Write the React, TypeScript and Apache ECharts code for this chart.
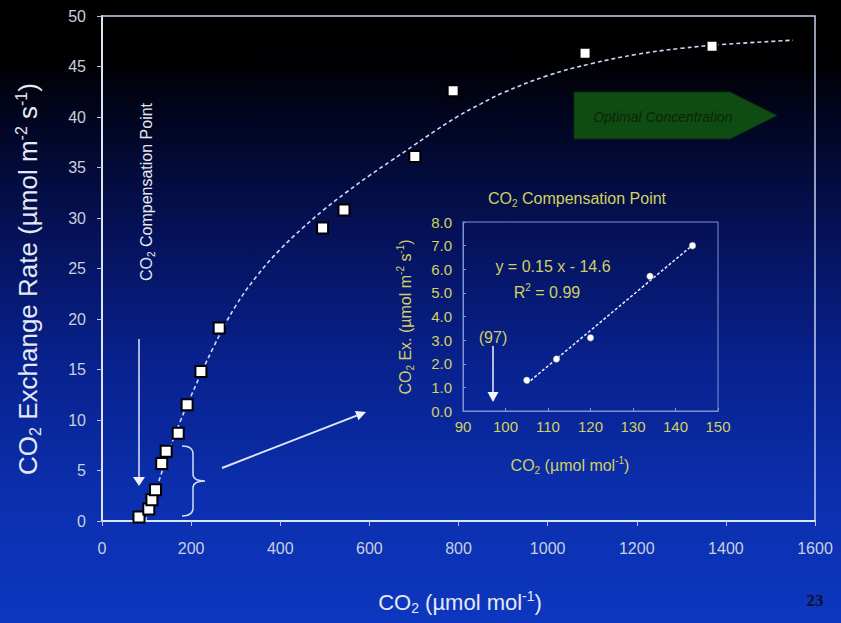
import React, { useEffect, useRef } from "react";
import * as echarts from "echarts";

// Main chart: measured CO2 exchange rate vs CO2 concentration
const mainX = [83, 105, 112, 120, 134, 144, 171, 191, 222, 263, 495, 543, 702, 788, 1084, 1369];
const mainY = [0.4, 1.2, 2.1, 3.1, 5.7, 6.9, 8.7, 11.5, 14.8, 19.1, 29.0, 30.8, 36.1, 42.6, 46.3, 47.0];
// Dashed fitted curve
const curveX = [97, 125, 150, 175, 200, 250, 300, 350, 400, 450, 500, 550, 600, 650, 700, 750, 800, 850, 900, 1000, 1100, 1200, 1300, 1400, 1550];
const curveY = [0, 3.6, 6.9, 9.8, 12.4, 17.2, 21.3, 24.4, 26.9, 29.0, 30.9, 32.6, 34.2, 35.7, 37.2, 38.7, 40.1, 41.3, 42.4, 44.1, 45.3, 46.2, 46.8, 47.2, 47.6];
// Inset: compensation point detail
const insetX = [105, 112, 120, 134, 144];
const insetY = [1.3, 2.2, 3.1, 5.7, 7.0];
// Axis ranges [min, max, interval]
const mainXRange = [0, 1600, 200];
const mainYRange = [0, 50, 5];
const insetXRange = [90, 150, 10];
const insetYRange = [0, 8, 1];

const FONT = "Liberation Sans, Arial, Helvetica, sans-serif";
const WHITE = "#e4e9f4";
const TICK = "#c9d0de";
const YEL = "#d2d062";

function richSpec(size: number, fill: string) {
  const small = Math.round(size * 0.62);
  return {
    a: { fontSize: size, lineHeight: size + 4, fill, fontFamily: FONT },
    s: { fontSize: small, lineHeight: small, verticalAlign: "bottom", fill, fontFamily: FONT },
    p: { fontSize: small, lineHeight: small, verticalAlign: "top", fill, fontFamily: FONT },
  };
}

function linReg(xs: number[], ys: number[]) {
  const n = xs.length;
  const mx = xs.reduce((a, b) => a + b, 0) / n;
  const my = ys.reduce((a, b) => a + b, 0) / n;
  let sxy = 0, sxx = 0;
  for (let i = 0; i < n; i++) {
    sxy += (xs[i] - mx) * (ys[i] - my);
    sxx += (xs[i] - mx) * (xs[i] - mx);
  }
  const b = sxy / sxx;
  return { b, a: my - b * mx };
}

echarts.graphic.registerShape(
  "brace",
  echarts.graphic.extendPath(
    "M0 1 Q11 1 11 9 L11 29 Q11 36 23 36 Q11 36 11 43 L11 63 Q11 71 0 71",
    {}
  )
);

export default function App() {
  const ref = useRef<HTMLDivElement>(null);
  useEffect(() => {
    if (!ref.current) return;
    const chart = echarts.init(ref.current, undefined, { renderer: "svg" });
    const reg = linReg(insetX, insetY);
    const x0 = Math.min(...insetX);
    const x1 = Math.max(...insetX);

    const option: any = {
      animation: false,
      backgroundColor: "transparent",
      grid: [
        { left: 102, top: 16, width: 713, height: 505, show: true, borderColor: "#c3cfee", borderWidth: 1.5, backgroundColor: "transparent" },
        { left: 463, top: 222, width: 255, height: 189, show: true, borderColor: "#7d94d6", borderWidth: 1, backgroundColor: "transparent" },
      ],
      xAxis: [
        {
          type: "value", gridIndex: 0, min: mainXRange[0], max: mainXRange[1], interval: mainXRange[2],
          axisLine: { show: true, onZero: false, lineStyle: { color: "#dde4f4", width: 2 } },
          axisTick: { show: true, length: 5, lineStyle: { color: "#b8c4e4", width: 1 } },
          axisLabel: { color: TICK, fontSize: 16, fontFamily: FONT, margin: 19, formatter: (v: number) => String(v) },
          splitLine: { show: false },
        },
        {
          type: "value", gridIndex: 1, min: insetXRange[0], max: insetXRange[1], interval: insetXRange[2],
          axisLine: { show: true, onZero: false, lineStyle: { color: "#7d94d6", width: 1 } },
          axisTick: { show: true, inside: true, length: 3, lineStyle: { color: "#7d94d6" } },
          axisLabel: { color: YEL, fontSize: 15, fontFamily: FONT, margin: 8, formatter: (v: number) => String(v) },
          splitLine: { show: false },
        },
      ],
      yAxis: [
        {
          type: "value", gridIndex: 0, min: mainYRange[0], max: mainYRange[1], interval: mainYRange[2],
          axisLine: { show: true, onZero: false, lineStyle: { color: "#dde4f4", width: 2 } },
          axisTick: { show: true, length: 5, lineStyle: { color: "#b8c4e4", width: 1 } },
          axisLabel: { color: TICK, fontSize: 16, fontFamily: FONT, margin: 16 },
          splitLine: { show: false },
        },
        {
          type: "value", gridIndex: 1, min: insetYRange[0], max: insetYRange[1], interval: insetYRange[2],
          axisLine: { show: true, onZero: false, lineStyle: { color: "#7d94d6", width: 1 } },
          axisTick: { show: true, inside: true, length: 3, lineStyle: { color: "#7d94d6" } },
          axisLabel: { color: YEL, fontSize: 15, fontFamily: FONT, margin: 11, formatter: (v: number) => v.toFixed(1) },
          splitLine: { show: false },
        },
      ],
      series: [
        {
          type: "line", xAxisIndex: 0, yAxisIndex: 0, smooth: 0.4, showSymbol: false, symbol: "none",
          data: curveX.map((x, i) => [x, curveY[i]]),
          lineStyle: { color: "#cdd9fb", width: 1.6, type: [4, 3] }, z: 2,
        },
        {
          type: "scatter", xAxisIndex: 0, yAxisIndex: 0, symbol: "rect", symbolSize: 11,
          data: mainX.map((x, i) => [x, mainY[i]]),
          itemStyle: { color: "#ffffff", borderColor: "#000000", borderWidth: 2, opacity: 1 }, z: 3,
        },
        {
          type: "line", xAxisIndex: 1, yAxisIndex: 1, showSymbol: false, symbol: "none",
          data: [[x0, reg.a + reg.b * x0], [x1, reg.a + reg.b * x1]],
          lineStyle: { color: "#e8eeff", width: 1.5, type: [3, 2] }, z: 2,
        },
        {
          type: "scatter", xAxisIndex: 1, yAxisIndex: 1, symbol: "circle", symbolSize: 7,
          data: insetX.map((x, i) => [x, insetY[i]]),
          itemStyle: { color: "#ffffff", borderColor: "#33406a", borderWidth: 0.5, opacity: 1 }, z: 3,
        },
      ],
      graphic: [
        // Main axis titles
        {
          type: "text", x: 28, y: 279, rotation: Math.PI / 2,
          style: { text: "{a|CO}{s|2}{a| Exchange Rate (µmol m}{p|-2}{a| s}{p|-1}{a|)}", rich: richSpec(26, WHITE), align: "center", verticalAlign: "middle" },
        },
        {
          type: "text", x: 460, y: 602,
          style: { text: "{a|CO}{s|2}{a| (µmol mol}{p|-1}{a|)}", rich: richSpec(22, WHITE), align: "center", verticalAlign: "middle" },
        },
        // Compensation point annotation
        {
          type: "text", x: 146, y: 192, rotation: Math.PI / 2,
          style: { text: "{a|CO}{s|2}{a| Compensation Point}", rich: richSpec(16, WHITE), align: "center", verticalAlign: "middle" },
        },
        { type: "line", shape: { x1: 139, y1: 339, x2: 139, y2: 478 }, style: { stroke: "#dfe6f6", lineWidth: 1.5 } },
        { type: "polygon", shape: { points: [[133, 477], [145, 477], [139, 486]] }, style: { fill: "#eef2fb" } },
        { type: "brace", x: 182, y: 445, style: { stroke: "#d2dbf2", lineWidth: 1.5, fill: null } },
        { type: "line", shape: { x1: 222, y1: 468, x2: 356.7, y2: 415.6 }, style: { stroke: "#dfe6f6", lineWidth: 2 } },
        { type: "polygon", shape: { points: [[366, 412], [358.5, 420.3], [354.9, 410.9]] }, style: { fill: "#eef2fb" } },
        // Inset titles and labels
        {
          type: "text", x: 577, y: 198,
          style: { text: "{a|CO}{s|2}{a| Compensation Point}", rich: richSpec(16, YEL), align: "center", verticalAlign: "middle" },
        },
        {
          type: "text", x: 405, y: 317, rotation: Math.PI / 2,
          style: { text: "{a|CO}{s|2}{a| Ex. (µmol m}{p|-2}{a| s}{p|-1}{a|)}", rich: richSpec(16, YEL), align: "center", verticalAlign: "middle" },
        },
        {
          type: "text", x: 570, y: 465,
          style: { text: "{a|CO}{s|2}{a| (µmol mol}{p|-1}{a|)}", rich: richSpec(16, YEL), align: "center", verticalAlign: "middle" },
        },
        {
          type: "text", x: 553, y: 266,
          style: { text: "y = 0.15 x - 14.6", fill: YEL, fontSize: 16, fontFamily: FONT, align: "center", verticalAlign: "middle" },
        },
        {
          type: "text", x: 547, y: 292,
          style: { text: "{a|R}{p|2}{a| = 0.99}", rich: richSpec(16, YEL), align: "center", verticalAlign: "middle" },
        },
        {
          type: "text", x: 493, y: 337,
          style: { text: "(97)", fill: YEL, fontSize: 16, fontFamily: FONT, align: "center", verticalAlign: "middle" },
        },
        { type: "line", shape: { x1: 493, y1: 346, x2: 493, y2: 393 }, style: { stroke: "#eef2fb", lineWidth: 1.5 } },
        { type: "polygon", shape: { points: [[487.5, 392], [498.5, 392], [493, 402]] }, style: { fill: "#f2f5fc" } },
        // Optimal concentration arrow
        {
          type: "polygon",
          shape: { points: [[574, 92], [730, 92], [777, 115.5], [730, 139], [574, 139]] },
          style: { fill: "#0f4c14", stroke: "#0a2e0c", lineWidth: 1 },
        },
        {
          type: "text", x: 663, y: 117,
          style: { text: "Optimal Concentration", fill: "#0a2608", fontSize: 14, fontStyle: "italic", fontFamily: FONT, align: "center", verticalAlign: "middle" },
        },
        // Slide number
        {
          type: "text", x: 815, y: 600,
          style: { text: "23", fill: "#0c1124", fontSize: 17, fontWeight: "bold", fontFamily: "Liberation Serif, Times New Roman, serif", align: "center", verticalAlign: "middle" },
        },
      ],
    };
    chart.setOption(option);
    return () => chart.dispose();
  }, []);

  return (
    <div
      style={{
        position: "fixed", left: 0, top: 0, width: 841, height: 623,
        background: "linear-gradient(to bottom, #000000 0%, #000002 10%, #020623 20%, #05125a 38%, #08218d 58%, #0b2fae 80%, #0d37c0 100%)",
      }}
    >
      <div ref={ref} style={{ width: 841, height: 623 }} />
    </div>
  );
}
